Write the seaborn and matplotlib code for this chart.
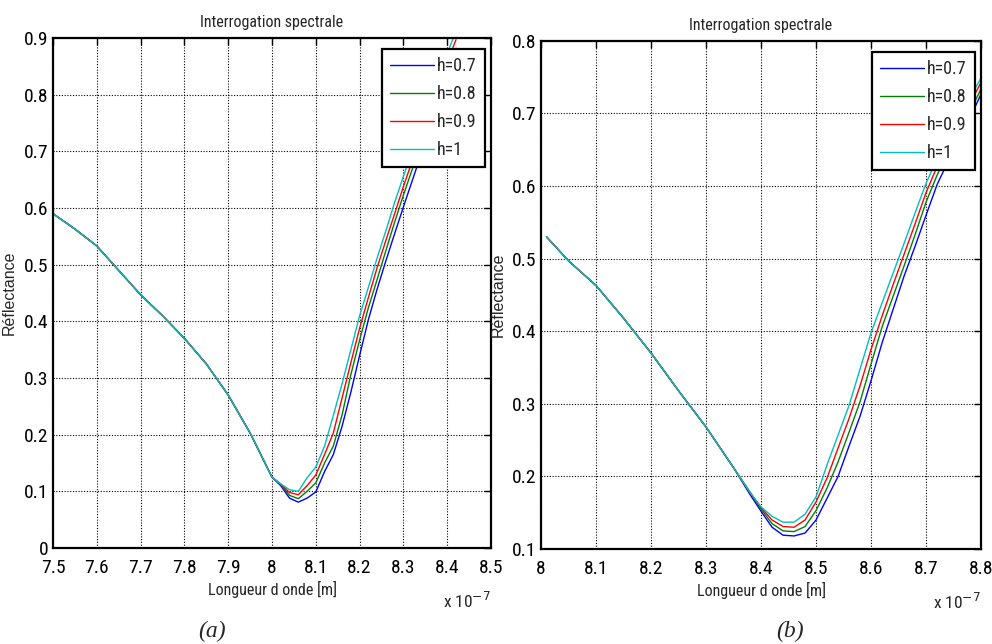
import numpy as np
import pandas as pd
import matplotlib
matplotlib.use("Agg")
import matplotlib.pyplot as plt
import seaborn as sns
from matplotlib.ticker import FormatStrFormatter, MultipleLocator

# Series labels and colours (old MATLAB defaults b, g, r, c)
labels = ["h=0.7", "h=0.8", "h=0.9", "h=1"]
colors = ["#0000ff", "#008000", "#ff0000", "#00bfbf"]

# Panel (a): wavelength in units of 1e-7 m
lam_a = [7.50, 7.55, 7.60, 7.65, 7.70, 7.75, 7.80, 7.85, 7.90, 7.95, 8.00,
         8.02, 8.04, 8.06, 8.08, 8.10, 8.12, 8.14, 8.16, 8.18, 8.20, 8.22,
         8.24, 8.26, 8.28, 8.30, 8.32, 8.34, 8.36, 8.38, 8.40, 8.42]
common_a = [0.590, 0.563, 0.533, 0.490, 0.447, 0.410, 0.370, 0.325, 0.270, 0.203, 0.125]
r_a_07 = common_a + [0.110, 0.088, 0.081, 0.088, 0.099, 0.135, 0.165, 0.215, 0.275, 0.340,
                     0.403, 0.457, 0.507, 0.555, 0.602, 0.648, 0.694, 0.738, 0.782, 0.825, 0.866]
r_a_08 = common_a + [0.112, 0.093, 0.087, 0.100, 0.115, 0.150, 0.180, 0.235, 0.306, 0.367,
                     0.424, 0.474, 0.525, 0.575, 0.623, 0.668, 0.713, 0.756, 0.800, 0.842, 0.882]
r_a_09 = common_a + [0.113, 0.098, 0.094, 0.110, 0.129, 0.165, 0.203, 0.265, 0.327, 0.388,
                     0.442, 0.495, 0.543, 0.590, 0.638, 0.683, 0.728, 0.772, 0.815, 0.857, 0.897]
r_a_10 = common_a + [0.113, 0.103, 0.100, 0.124, 0.143, 0.180, 0.234, 0.290, 0.350, 0.410,
                     0.460, 0.512, 0.560, 0.610, 0.656, 0.700, 0.745, 0.790, 0.832, 0.873, 0.912]

# Panel (b)
lam_b = [8.01, 8.05, 8.10, 8.15, 8.20, 8.25, 8.30, 8.35, 8.38, 8.40, 8.42, 8.44,
         8.46, 8.48, 8.50, 8.52, 8.54, 8.56, 8.58, 8.60, 8.62, 8.64, 8.66, 8.68,
         8.70, 8.72, 8.74, 8.76, 8.78, 8.80]
common_b = [0.530, 0.497, 0.463, 0.418, 0.370, 0.318, 0.268, 0.212]
r_b_07 = common_b + [0.175, 0.152, 0.130, 0.119, 0.118, 0.122, 0.140, 0.170, 0.200, 0.242,
                     0.283, 0.332, 0.384, 0.430, 0.476, 0.517, 0.560, 0.602, 0.634, 0.664, 0.694, 0.727]
r_b_08 = common_b + [0.178, 0.155, 0.135, 0.125, 0.124, 0.131, 0.153, 0.184, 0.220, 0.261,
                     0.303, 0.355, 0.406, 0.448, 0.490, 0.533, 0.578, 0.615, 0.646, 0.675, 0.703, 0.734]
r_b_09 = common_b + [0.178, 0.157, 0.140, 0.131, 0.130, 0.140, 0.165, 0.198, 0.239, 0.280,
                     0.325, 0.375, 0.421, 0.464, 0.506, 0.548, 0.591, 0.627, 0.657, 0.686, 0.714, 0.743]
r_b_10 = common_b + [0.178, 0.158, 0.145, 0.137, 0.137, 0.148, 0.172, 0.216, 0.257, 0.298,
                     0.348, 0.398, 0.439, 0.480, 0.521, 0.563, 0.604, 0.637, 0.667, 0.695, 0.722, 0.749]


def long_frame(lam, series):
    parts = []
    for lab, vals in zip(labels, series):
        parts.append(pd.DataFrame({"lam": lam, "R": vals, "h": lab}))
    return pd.concat(parts, ignore_index=True)


df_a = long_frame(lam_a, [r_a_07, r_a_08, r_a_09, r_a_10])
df_b = long_frame(lam_b, [r_b_07, r_b_08, r_b_09, r_b_10])

sns.set_theme(style="white")
plt.rcParams["font.family"] = ["Roboto Condensed", "Liberation Sans", "DejaVu Sans"]

fig = plt.figure(figsize=(9.92, 6.44), dpi=100)
ax_a = fig.add_axes([0.0534, 0.149, 0.4416, 0.792])
ax_b = fig.add_axes([0.5454, 0.1475, 0.4436, 0.789])


def style_axes(ax, df, xlim, ylim, panel, panel_x):
    sns.lineplot(data=df, x="lam", y="R", hue="h", palette=colors,
                 estimator=None, sort=False, lw=1.0, ax=ax, legend=False)
    ax.set_xlim(*xlim)
    ax.set_ylim(*ylim)
    ax.xaxis.set_major_locator(MultipleLocator(0.1))
    ax.yaxis.set_major_locator(MultipleLocator(0.1))
    ax.xaxis.set_major_formatter(FormatStrFormatter("%g"))
    ax.yaxis.set_major_formatter(FormatStrFormatter("%g"))
    ax.grid(True, color="black", linestyle=(0, (1, 1.5)), linewidth=0.8)
    ax.tick_params(direction="in", top=True, right=True, length=5, width=1,
                   labelsize=14, colors="black")
    ax.tick_params(axis="x", pad=8)
    ax.tick_params(axis="y", pad=3)
    for sp in ax.spines.values():
        sp.set_color("black")
        sp.set_linewidth(1.6)
    ax.set_title("Interrogation spectrale", fontsize=11.5, pad=8)
    ax.set_xlabel("Longueur d onde [m]", fontsize=11.5, labelpad=3)
    ax.set_ylabel("Réflectance", fontsize=11.5, labelpad=5, family="Liberation Sans")
    ax.text(1.0, -0.085, r"x 10$^{-7}$", transform=ax.transAxes, ha="right",
            va="top", fontsize=12.5)
    ax.text(panel_x, -0.163, panel, transform=ax.transAxes, ha="center", va="center",
            fontsize=17, family="Liberation Serif", style="italic")
    handles = [plt.Line2D([], [], color=c, lw=1.0) for c in colors]
    leg = ax.legend(handles, labels, loc="upper right", bbox_to_anchor=(0.986, 0.978),
                    borderaxespad=0, fontsize=13, frameon=True, fancybox=False,
                    handlelength=2.4, handletextpad=0.2, labelspacing=0.55,
                    borderpad=0.45)
    leg.get_frame().set_edgecolor("black")
    leg.get_frame().set_linewidth(1.6)
    leg.get_frame().set_alpha(1)


style_axes(ax_a, df_a, (7.5, 8.5), (0, 0.9), "(a)", 0.363)
style_axes(ax_b, df_b, (8.0, 8.8), (0.1, 0.8), "(b)", 0.566)

fig.savefig("out.png", dpi=100)
